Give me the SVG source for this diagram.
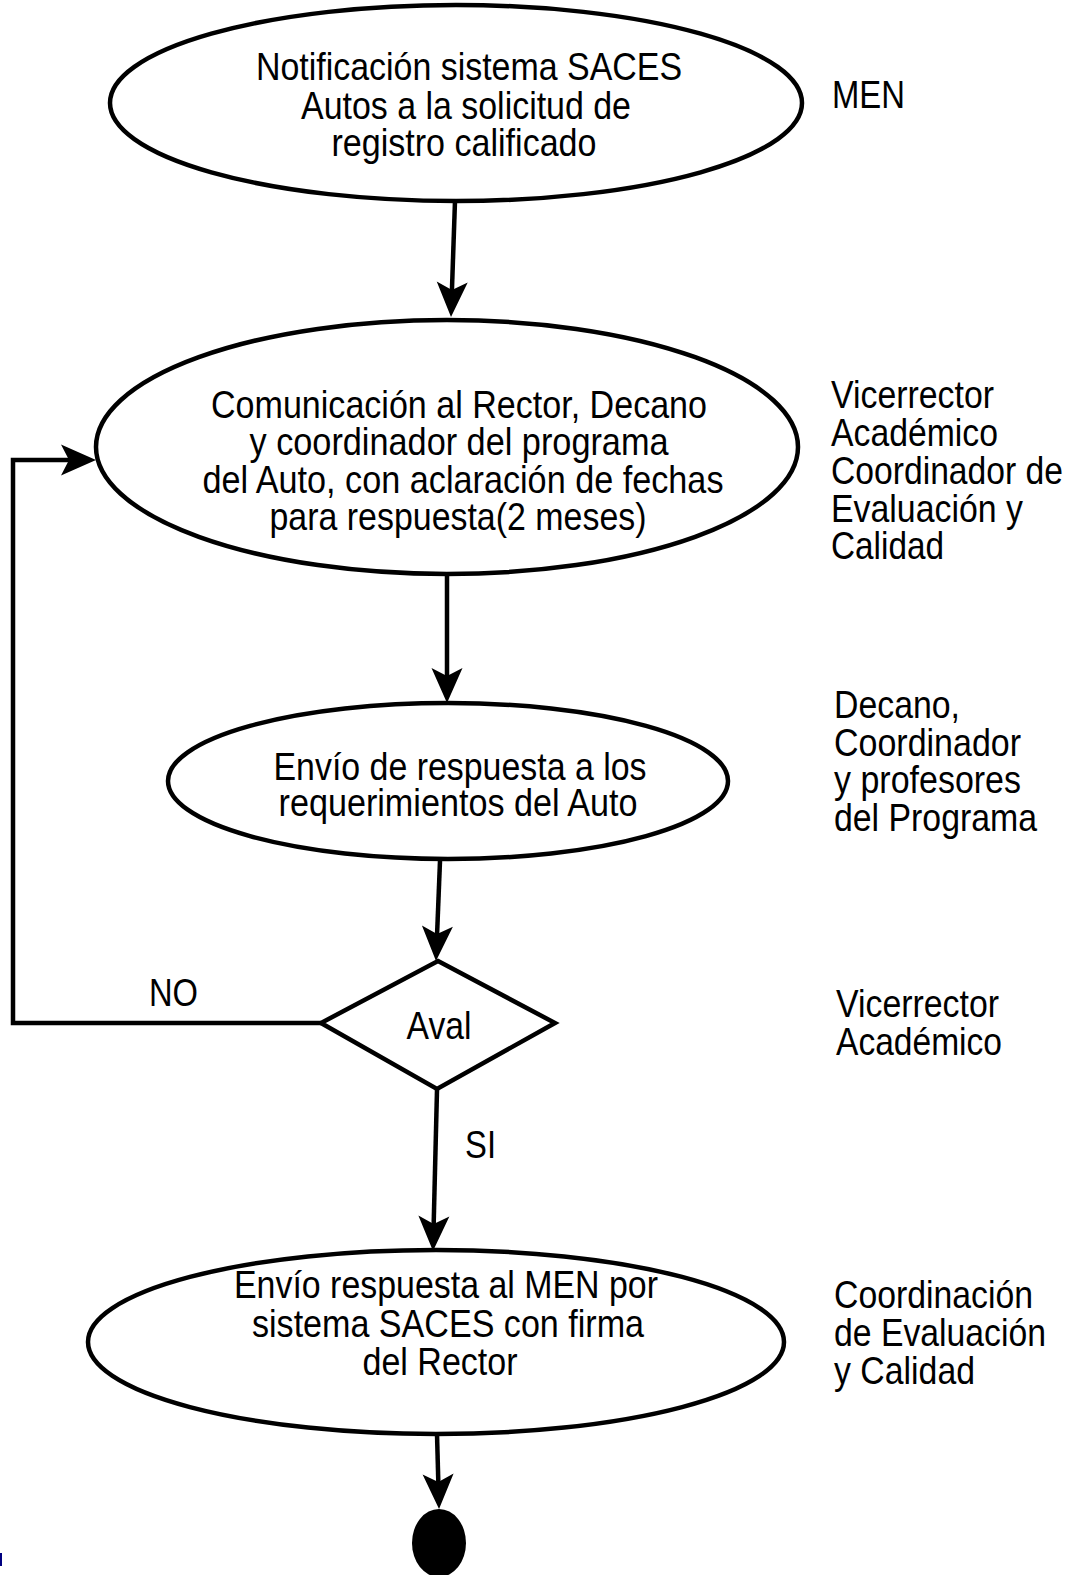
<svg xmlns="http://www.w3.org/2000/svg" width="1070" height="1575" viewBox="0 0 1070 1575">
<style>
.shape{fill:#fff;stroke:#000;stroke-width:4.5}
.t{font-family:"Liberation Sans",Arial,sans-serif;font-size:39px;fill:#000}
.c{text-anchor:middle}
.conn{fill:none;stroke:#000;stroke-width:4.5}
</style>
<defs>
<marker id="ah" markerUnits="userSpaceOnUse" viewBox="-16 -16 37 32" refX="0" refY="0" markerWidth="37" markerHeight="32" orient="auto" overflow="visible">
<path d="M20,0 L-15,-15.5 L-7,0 L-15,15.5 Z" fill="#000"/>
</marker>
</defs>
<rect width="1070" height="1575" fill="#fff"/>
<g id="connectors">
<line class="conn" x1="455" y1="201" x2="451.7" y2="297" marker-end="url(#ah)"/>
<line class="conn" x1="447" y1="576" x2="447" y2="683" marker-end="url(#ah)"/>
<line class="conn" x1="440" y1="861" x2="436.8" y2="941" marker-end="url(#ah)"/>
<line class="conn" x1="437" y1="1090" x2="433.5" y2="1231" marker-end="url(#ah)"/>
<line class="conn" x1="437" y1="1434" x2="438.5" y2="1489" marker-end="url(#ah)"/>
<polyline class="conn" points="321,1023 13,1023 13,460 76,460" marker-end="url(#ah)"/>
<text class="t" x="149" y="1006" textLength="49" lengthAdjust="spacingAndGlyphs">NO</text>
<text class="t" x="465" y="1158" textLength="31" lengthAdjust="spacingAndGlyphs">SI</text>
</g>
<g id="n1">
<ellipse class="shape" cx="456" cy="103" rx="346" ry="98"/>
<text class="t c" x="469" y="80" textLength="426" lengthAdjust="spacingAndGlyphs">Notificación sistema SACES</text>
<text class="t c" x="466" y="119" textLength="330" lengthAdjust="spacingAndGlyphs">Autos a la solicitud de</text>
<text class="t c" x="464" y="156" textLength="265" lengthAdjust="spacingAndGlyphs">registro calificado</text>
</g>
<g id="l1"><text class="t" x="832" y="108" textLength="73" lengthAdjust="spacingAndGlyphs">MEN</text></g>
<g id="n2">
<ellipse class="shape" cx="447" cy="447" rx="351" ry="127"/>
<text class="t c" x="459" y="418" textLength="496" lengthAdjust="spacingAndGlyphs">Comunicación al Rector, Decano</text>
<text class="t c" x="459" y="455" textLength="419" lengthAdjust="spacingAndGlyphs">y coordinador del programa</text>
<text class="t c" x="463" y="493" textLength="521" lengthAdjust="spacingAndGlyphs">del Auto, con aclaración de fechas</text>
<text class="t c" x="458" y="530" textLength="377" lengthAdjust="spacingAndGlyphs">para respuesta(2 meses)</text>
</g>
<g id="l2">
<text class="t" x="831" y="408" textLength="163" lengthAdjust="spacingAndGlyphs">Vicerrector</text>
<text class="t" x="831" y="446" textLength="167" lengthAdjust="spacingAndGlyphs">Académico</text>
<text class="t" x="831" y="484" textLength="232" lengthAdjust="spacingAndGlyphs">Coordinador de</text>
<text class="t" x="831" y="522" textLength="192" lengthAdjust="spacingAndGlyphs">Evaluación y</text>
<text class="t" x="831" y="559" textLength="113" lengthAdjust="spacingAndGlyphs">Calidad</text>
</g>
<g id="n3">
<ellipse class="shape" cx="448" cy="781" rx="280" ry="78"/>
<text class="t c" x="460" y="780" textLength="373" lengthAdjust="spacingAndGlyphs">Envío de respuesta a los</text>
<text class="t c" x="458" y="816" textLength="359" lengthAdjust="spacingAndGlyphs">requerimientos del Auto</text>
</g>
<g id="l3">
<text class="t" x="834" y="718" textLength="126" lengthAdjust="spacingAndGlyphs">Decano,</text>
<text class="t" x="834" y="756" textLength="187" lengthAdjust="spacingAndGlyphs">Coordinador</text>
<text class="t" x="834" y="793" textLength="187" lengthAdjust="spacingAndGlyphs">y profesores</text>
<text class="t" x="834" y="831" textLength="203" lengthAdjust="spacingAndGlyphs">del Programa</text>
</g>
<g id="n4">
<polygon class="shape" points="438,961 555,1023 437,1089 321,1023"/>
<text class="t c" x="439" y="1039" textLength="65" lengthAdjust="spacingAndGlyphs">Aval</text>
</g>
<g id="l4">
<text class="t" x="836" y="1017" textLength="163" lengthAdjust="spacingAndGlyphs">Vicerrector</text>
<text class="t" x="836" y="1055" textLength="166" lengthAdjust="spacingAndGlyphs">Académico</text>
</g>
<g id="n5">
<ellipse class="shape" cx="436" cy="1342" rx="348" ry="92"/>
<text class="t c" x="446" y="1298" textLength="424" lengthAdjust="spacingAndGlyphs">Envío respuesta al MEN por</text>
<text class="t c" x="448" y="1337" textLength="392" lengthAdjust="spacingAndGlyphs">sistema SACES con firma</text>
<text class="t c" x="440" y="1375" textLength="155" lengthAdjust="spacingAndGlyphs">del Rector</text>
</g>
<g id="l5">
<text class="t" x="834" y="1308" textLength="199" lengthAdjust="spacingAndGlyphs">Coordinación</text>
<text class="t" x="834" y="1346" textLength="212" lengthAdjust="spacingAndGlyphs">de Evaluación</text>
<text class="t" x="834" y="1384" textLength="141" lengthAdjust="spacingAndGlyphs">y Calidad</text>
</g>
<g id="end">
<ellipse cx="439" cy="1543" rx="27" ry="34" fill="#000"/>
</g>
<rect x="0" y="1553" width="2" height="13" fill="#000080"/>
</svg>
